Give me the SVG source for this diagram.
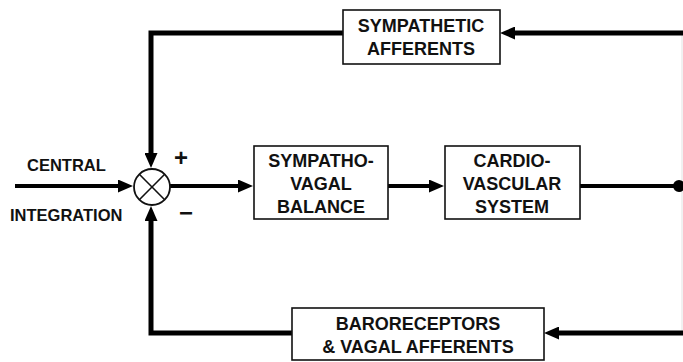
<svg xmlns="http://www.w3.org/2000/svg" width="683" height="362" viewBox="0 0 683 362">
<style>
.box{fill:#fff;stroke:#111;stroke-width:1.6}
.ln{fill:none;stroke:#000;stroke-width:5}
.ln4{fill:none;stroke:#000;stroke-width:4}
.t{font-family:"Liberation Sans",Arial,sans-serif;font-weight:bold;font-size:18px;fill:#111;text-anchor:middle}
.tl{font-family:"Liberation Sans",Arial,sans-serif;font-weight:bold;font-size:16.5px;fill:#111}
.sign{font-family:"Liberation Sans",Arial,sans-serif;font-weight:bold;font-size:24px;fill:#111;text-anchor:middle}
</style>
<defs>
<marker id="ah" viewBox="0 0 15 13" refX="3" refY="6.5" markerWidth="15" markerHeight="13" orient="auto" markerUnits="userSpaceOnUse">
<path d="M0,0 L15,6.5 L0,13 z" fill="#000"/>
</marker>
</defs>
<rect x="0" y="0" width="683" height="362" fill="#fff"/>
<line x1="682" y1="33" x2="682" y2="333" stroke="#ececec" stroke-width="1.5"/>
<g id="connectors">
<path class="ln" d="M683,33 L512,33" marker-end="url(#ah)"/>
<path class="ln" d="M343,33 L151,33 L151,156" marker-end="url(#ah)"/>
<path class="ln4" d="M15,186 L121,186" marker-end="url(#ah)"/>
<path class="ln4" d="M170,186 L241,186" marker-end="url(#ah)"/>
<path class="ln4" d="M388,186 L432,186" marker-end="url(#ah)"/>
<path class="ln4" d="M580,186 L677,186"/>
<circle cx="679" cy="186" r="6" fill="#000"/>
<path class="ln" d="M683,333 L556,333" marker-end="url(#ah)"/>
<path class="ln" d="M292,333 L151,333 L151,218" marker-end="url(#ah)"/>
</g>
<g id="sum">
<circle cx="152" cy="187" r="18" fill="#fff" stroke="#111" stroke-width="1.8"/>
<line x1="139.3" y1="174.3" x2="164.7" y2="199.7" stroke="#111" stroke-width="1.6"/>
<line x1="164.7" y1="174.3" x2="139.3" y2="199.7" stroke="#111" stroke-width="1.6"/>
<text class="sign" x="181" y="166">+</text>
<text class="sign" x="186" y="221">−</text>
</g>
<g id="input-label">
<text class="tl" x="27" y="171">CENTRAL</text>
<text class="tl" x="10" y="221">INTEGRATION</text>
</g>
<g id="sympathetic-afferents">
<rect class="box" x="343" y="10" width="157" height="54"/>
<text class="t" x="421" y="32">SYMPATHETIC</text>
<text class="t" x="421" y="55">AFFERENTS</text>
</g>
<g id="sympathovagal-balance">
<rect class="box" x="254" y="146" width="134" height="73"/>
<text class="t" x="321" y="167">SYMPATHO-</text>
<text class="t" x="321" y="190">VAGAL</text>
<text class="t" x="321" y="213">BALANCE</text>
</g>
<g id="cardiovascular-system">
<rect class="box" x="445" y="146" width="135" height="73"/>
<text class="t" x="512" y="167">CARDIO-</text>
<text class="t" x="512" y="190">VASCULAR</text>
<text class="t" x="512" y="213">SYSTEM</text>
</g>
<g id="baroreceptors">
<rect class="box" x="292" y="308" width="252" height="52"/>
<text class="t" x="418" y="330">BARORECEPTORS</text>
<text class="t" x="418" y="353">&amp; VAGAL AFFERENTS</text>
</g>
</svg>
